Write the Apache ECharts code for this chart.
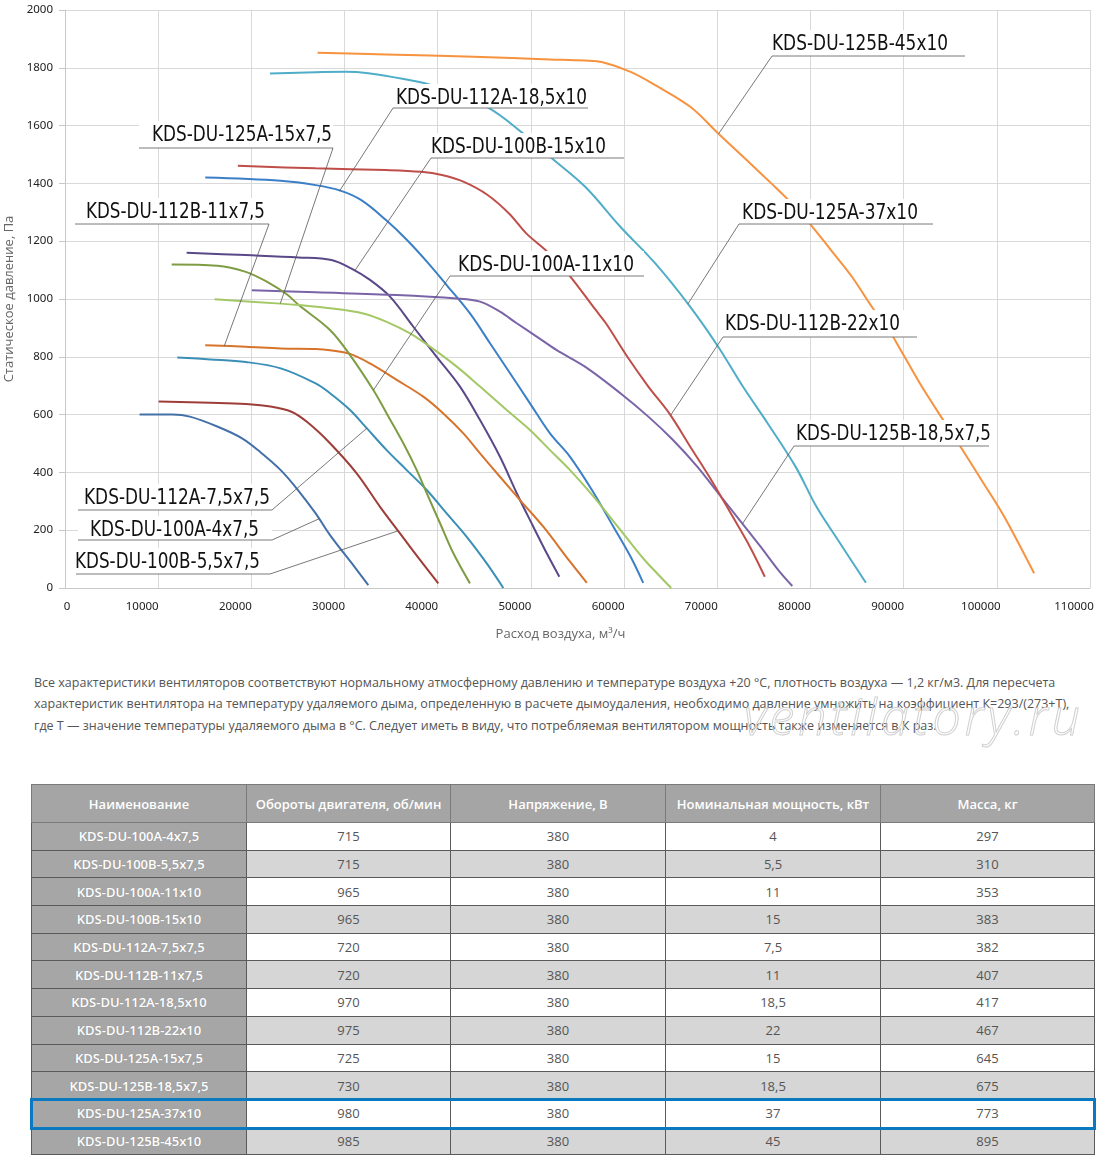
<!DOCTYPE html>
<html>
<head>
<meta charset="utf-8">
<script src="https://cdn.jsdelivr.net/npm/echarts@6/dist/echarts.min.js"></script>
<style>
body{margin:0;background:#fff;width:1100px;height:1159px;position:relative;overflow:hidden;font-family:'Open Sans','Noto Sans',sans-serif;}
#chart{position:absolute;left:0;top:0;width:1100px;height:650px;}
#note{position:absolute;left:34px;top:672px;font-size:12.5px;line-height:21.3px;color:#555;white-space:nowrap;}
#wm{position:absolute;left:744px;top:682px;font-size:50px;font-style:italic;font-weight:300;letter-spacing:4px;color:rgba(255,255,255,0);-webkit-text-stroke:1px #d0d0d0;}
#tbl{position:absolute;left:31px;top:784px;width:1063px;border-collapse:collapse;table-layout:fixed;font-size:13px;}
#tbl th{background:#a5a5a5;color:#fff;font-weight:600;height:37px;border:1px solid #7a7a7a;padding:0;text-align:center;}
#tbl td{height:26.7px;border:1px solid #5a5a5a;padding:0;text-align:center;color:#555;}
#tbl td.nm{background:#a6a6a6;color:#fff;font-weight:600;text-shadow:0 0 1px #888;}
#tbl tr.odd td{background:#fff;}
#tbl tr.even td{background:#d6d6d6;}
#tbl tr td.nm{background:#a6a6a6;}
#mark{position:absolute;left:30px;top:1098px;width:1060px;height:26px;border:3px solid #0b79bf;}
</style>
</head>
<body>
<div id="chart"></div>
<div id="note">Все характеристики вентиляторов соответствуют нормальному атмосферному давлению и температуре воздуха +20 °С, плотность воздуха — 1,2 кг/м3. Для пересчета<br>характеристик вентилятора на температуру удаляемого дыма, определенную в расчете дымоудаления, необходимо давление умножить на коэффициент К=293/(273+Т),<br>где Т — значение температуры удаляемого дыма в °С. Следует иметь в виду, что потребляемая вентилятором мощность также изменяется в К раз.</div>
<div id="wm">ventilatory.ru</div>
<table id="tbl"></table>
<div id="mark"></div>
<script>
// модели вентиляторов
var fanNames = ['KDS-DU-100A-4x7,5','KDS-DU-100B-5,5x7,5','KDS-DU-100A-11x10','KDS-DU-100B-15x10',
	'KDS-DU-112A-7,5x7,5','KDS-DU-112B-11x7,5','KDS-DU-112A-18,5x10','KDS-DU-112B-22x10',
	'KDS-DU-125A-15x7,5','KDS-DU-125B-18,5x7,5','KDS-DU-125A-37x10','KDS-DU-125B-45x10'];
var fanRpm = [715,715,965,965,720,720,970,975,725,730,980,985];
var fanVolt = [380,380,380,380,380,380,380,380,380,380,380,380];
var fanPower = ['4','5,5','11','15','7,5','11','18,5','22','15','18,5','37','45'];
var fanMass = [297,310,353,383,382,407,417,467,645,675,773,895];

// кривые: [расход м3/ч, давление Па]
var c100A_4 = [[8000,600],[11500,600],[13400,593],[16400,558],[19000,518],[20900,472],[23150,408],[25000,339],[26900,258],[28440,183],[31050,74],[32550,10]];
var c100B_55 = [[10050,645],[15600,641],[19400,637],[21650,630],[24300,610],[26150,570],[28440,501],[31300,397],[33810,281],[35950,189],[38100,97],[40060,16]];
var c100A_11 = [[13050,1160],[19400,1152],[25050,1144],[28600,1135],[30700,1106],[32730,1066],[34880,1008],[37380,904],[39890,800],[42390,697],[44540,581],[46680,454],[48480,328],[50260,212],[51700,120],[53050,39]];
var c100B_15 = [[15050,1420],[23150,1409],[26900,1394],[29550,1375],[31800,1342],[34450,1273],[36700,1204],[38950,1125],[40960,1048],[43460,950],[45610,847],[47760,743],[49900,639],[52050,535],[54200,454],[56550,339],[58850,212],[60700,108],[62050,18]];
var c112A_75 = [[12050,798],[15600,791],[19400,782],[23150,760],[26900,708],[28440,674],[30590,616],[32380,553],[34520,477],[36670,408],[38820,339],[40960,258],[43110,177],[45260,85],[47040,0]];
var c112B_11 = [[15050,840],[19400,835],[23150,829],[26900,827],[28440,823],[30590,810],[32730,777],[35600,720],[38450,662],[40600,604],[42750,535],[44540,466],[46680,385],[48830,304],[51330,212],[54200,91],[56000,18]];
var c112A_185 = [[20050,1030],[26900,1023],[35600,1014],[42040,1002],[44540,991],[46680,956],[48480,916],[50620,870],[52770,823],[55800,766],[59600,674],[62600,593],[65250,512],[67850,420],[70100,328],[72400,235],[74650,143],[76550,62],[78050,7]];
var c112B_22 = [[18550,1461],[26900,1452],[34450,1446],[38200,1440],[40450,1429],[42750,1406],[45350,1360],[47650,1296],[49500,1227],[51750,1164],[53950,1089],[56950,962],[58050,916],[60350,800],[62600,697],[64850,604],[67100,489],[69350,374],[71650,247],[73500,143],[75100,39]];
var c125A_15 = [[11450,1119],[16350,1115],[19400,1094],[21650,1060],[23900,1014],[25050,980],[28440,893],[30590,806],[33090,685],[34520,604],[36310,501],[37750,408],[38820,328],[40250,224],[41680,120],[43460,16]];
var c125B_185 = [[16050,999],[23150,984],[25050,979],[28440,968],[32010,950],[34520,921],[37030,881],[39170,835],[42040,766],[44540,697],[47400,616],[49900,547],[52050,477],[54200,408],[56570,322],[59600,201],[62200,97],[65050,0]];
var c125A_37 = [[22000,1780],[26900,1785],[30100,1786],[32550,1781],[36350,1761],[39350,1740],[45350,1663],[49150,1573],[52050,1492],[55800,1389],[59600,1250],[63350,1123],[67100,973],[70100,835],[72750,697],[75400,570],[78400,420],[80650,281],[82950,166],[85950,18]];
var c125B_45 = [[27100,1852],[34450,1846],[43850,1838],[52050,1829],[55800,1825],[57700,1819],[60700,1786],[63350,1740],[67100,1665],[70100,1573],[73150,1481],[75800,1400],[77650,1342],[79900,1262],[82200,1169],[84450,1077],[86700,968],[88200,904],[90100,800],[91950,697],[94250,581],[96100,489],[98350,374],[100600,258],[102150,166],[104000,51]];

var curves = [c100A_4,c100B_55,c100A_11,c100B_15,c112A_75,c112B_11,c112A_185,c112B_22,c125A_15,c125B_185,c125A_37,c125B_45];
var curveColors = ['#4470a8','#9e3d38','#5a4889','#3b7fc6','#3a8fb6','#d7742c','#7a64a8','#bf4e49','#7e9c42','#a3c865','#4fadc8','#f7923f'];

// подписи и точки на кривых, куда идут выноски
var labelTexts = ['KDS-DU-125B-45x10','KDS-DU-112A-18,5x10','KDS-DU-125A-15x7,5','KDS-DU-100B-15x10',
	'KDS-DU-112B-11x7,5','KDS-DU-125A-37x10','KDS-DU-100A-11x10','KDS-DU-112B-22x10',
	'KDS-DU-125B-18,5x7,5','KDS-DU-112A-7,5x7,5','KDS-DU-100A-4x7,5','KDS-DU-100B-5,5x7,5'];
var labelTargets = [[70150,1572],[29450,1373],[23100,984],[31100,1098],[17100,838],[66850,983],[33100,685],[65000,598],[72700,222],[32400,553],[27300,240],[35760,198]];
// раскладка: [x текста, x конца текста, y центра, x1 черты, x2 черты, y черты, сторона выноски]
var labelLayout = [
	[772,948,43,772,965,56,'L'],
	[396,587,97,393,588,108,'L'],
	[152,332,134,139,333,148,'R'],
	[431,606,146,431,624,158,'L'],
	[86,265,211,75,269,224,'R'],
	[742,918,212,739,933,224,'L'],
	[458,634,264,450,644,276,'L'],
	[725,900,323,723,917,337,'L'],
	[796,991,433,794,989,446,'L'],
	[84,270,497,78,272,510,'R'],
	[90,259,529,78,272,540,'R'],
	[75,260,561,76,270,574,'R']
];

var myChart = echarts.init(document.getElementById('chart'));

var series = [];
for(var i=0;i<curves.length;i++){
	series.push({
		name:fanNames[i],
		type:'line',
		data:curves[i],
		smooth:0.35,
		showSymbol:false,
		lineStyle:{width:2,color:curveColors[i]},
		itemStyle:{color:curveColors[i]},
		z:2
	});
}

var option = {
	animation:false,
	backgroundColor:'#fff',
	grid:{left:65,right:10,top:10,height:578,outerBoundsMode:'none',containLabel:false},
	xAxis:{
		type:'value',min:0,max:110000,interval:10000,
		name:'Расход воздуха, м³/ч',nameLocation:'middle',nameGap:40,
		nameTextStyle:{color:'#666',fontSize:13,fontFamily:'Open Sans',padding:[0,34,0,0]},
		axisLine:{show:true,lineStyle:{color:'#c8c8c8'}},
		axisTick:{show:false},
		splitLine:{lineStyle:{color:'#d9d9d9',width:1}},
		axisLabel:{
			margin:13,
			formatter:function(v){ return v===0 ? '{z|0}' : '{n|'+v+'}'; },
			rich:{
				z:{color:'#222',fontSize:11.5,fontFamily:'Noto Sans',padding:[0,0,0,4]},
				n:{color:'#222',fontSize:11.5,fontFamily:'Noto Sans',padding:[0,32,0,0]}
			}
		}
	},
	yAxis:{
		type:'value',min:0,max:2000,interval:200,
		name:'Статическое давление, Па',nameLocation:'middle',nameRotate:90,nameGap:40,
		nameTextStyle:{color:'#666',fontSize:13,fontFamily:'Open Sans'},
		axisLine:{show:true,lineStyle:{color:'#c8c8c8'}},
		axisTick:{show:true,length:6,lineStyle:{color:'#c8c8c8'}},
		splitLine:{lineStyle:{color:'#d9d9d9',width:1}},
		axisLabel:{color:'#222',fontSize:11.5,fontFamily:'Noto Sans',margin:12,
			formatter:function(v){ return String(v); }}
	},
	series:series
};
myChart.setOption(option);

// выноски с подписями
var labelFont = '21px "Liberation Sans Narrow", "DejaVu Sans Condensed", "Liberation Sans", sans-serif';
var mctx = document.createElement('canvas').getContext('2d');
mctx.font = labelFont;
var graphics = [];
for(var k=0;k<labelTexts.length;k++){
	var L = labelLayout[k];
	var w = mctx.measureText(labelTexts[k]).width;
	var sx = (L[1]-L[0])/w;
	var p = myChart.convertToPixel({gridIndex:0}, labelTargets[k]);
	graphics.push({type:'rect',z:100,shape:{x:L[3],y:L[2]-13,width:L[4]-L[3],height:L[5]-L[2]+13},style:{fill:'#fff'}});
	graphics.push({type:'text',z:101,x:L[0],y:L[2]+2,scaleX:sx,
		style:{text:labelTexts[k],x:0,y:0,font:labelFont,fill:'#111',
			textAlign:'left',textVerticalAlign:'middle',align:'left',verticalAlign:'middle'}});
	graphics.push({type:'line',z:101,shape:{x1:L[3],y1:L[5],x2:L[4],y2:L[5]},style:{stroke:'#7a7a7a',lineWidth:1}});
	var ax = L[6]==='L' ? L[3] : L[4];
	graphics.push({type:'line',z:101,shape:{x1:ax,y1:L[5],x2:p[0],y2:p[1]},style:{stroke:'#555',lineWidth:0.8}});
}
myChart.setOption({graphic:graphics});

// таблица
var headers = ['Наименование','Обороты двигателя, об/мин','Напряжение, В','Номинальная мощность, кВт','Масса, кг'];
var colW = [215,204,215,215,214];
var html = '<colgroup>';
for(var c=0;c<colW.length;c++) html += '<col style="width:'+colW[c]+'px">';
html += '</colgroup><tr>';
for(var h=0;h<headers.length;h++) html += '<th>'+headers[h]+'</th>';
html += '</tr>';
for(var r=0;r<fanNames.length;r++){
	html += '<tr class="'+(r%2===0?'odd':'even')+'">'+
		'<td class="nm">'+fanNames[r]+'</td><td>'+fanRpm[r]+'</td><td>'+fanVolt[r]+'</td><td>'+fanPower[r]+'</td><td>'+fanMass[r]+'</td></tr>';
}
document.getElementById('tbl').innerHTML = html;
</script>
</body>
</html>
